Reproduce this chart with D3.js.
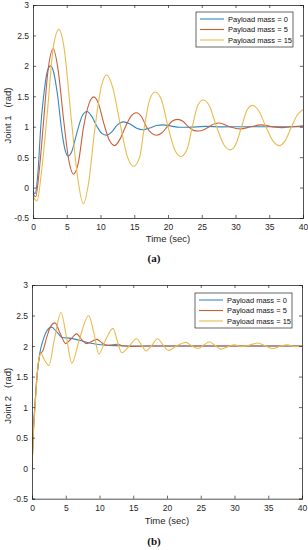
<!DOCTYPE html>
<html>
<head>
<meta charset="utf-8">
<script src="https://cdn.jsdelivr.net/npm/d3@7"></script>
<style>
  body { margin: 0; background: #fff; }
  svg { display: block; }
</style>
</head>
<body>
<div id="wrapper"></div>
<script>
// data: [time (sec), angle (rad)]
const seriesNames = ["Payload mass = 0", "Payload mass = 5", "Payload mass = 15"]
const seriesColors = ["#3589c1", "#c95f3a", "#e9bb4e"]
const xTicks = [0, 5, 10, 15, 20, 25, 30, 35, 40]
const yTicks = [-0.5, 0, 0.5, 1, 1.5, 2, 2.5, 3]

const joint1Mass0 = [[0,-0.05],[0.3,-0.1],[0.7,0.2],[1.15,1.0],[1.7,1.62],[2.2,1.94],[2.6,2.0],[3.0,1.92],[3.6,1.55],[4.3,0.9],[4.8,0.6],[5.2,0.52],[5.7,0.58],[6.5,0.9],[7.3,1.18],[8.0,1.25],[8.7,1.17],[9.5,1.0],[10.2,0.89],[10.9,0.86],[11.7,0.92],[12.5,1.03],[13.4,1.08],[14.3,1.05],[15.3,0.98],[16.3,0.95],[17.3,0.98],[18.3,1.02],[19.3,1.03],[20.5,1.01],[21.7,0.99],[23,0.99],[25.5,1.005],[28,0.997],[31,1.0],[40,1.0]]
const joint1Mass5 = [[0,-0.1],[0.4,-0.15],[0.9,0.25],[1.5,1.0],[2.2,1.9],[3.0,2.28],[3.7,1.95],[4.5,1.15],[5.3,0.45],[6.0,0.22],[6.7,0.4],[7.5,1.0],[8.3,1.38],[9.0,1.49],[9.7,1.38],[10.5,1.05],[11.3,0.78],[12.1,0.69],[12.9,0.8],[13.7,1.0],[14.5,1.17],[15.3,1.23],[16.1,1.16],[16.8,1.0],[17.6,0.89],[18.3,0.86],[19.1,0.9],[19.9,1.0],[20.6,1.09],[21.4,1.12],[22.2,1.09],[23,1.0],[23.8,0.94],[24.5,0.93],[25.3,0.95],[26.1,1.0],[26.9,1.05],[27.6,1.06],[29.1,1.0],[30.7,0.965],[32.3,1.0],[33.8,1.03],[35.4,1.0],[36.9,0.985],[38.5,1.0],[40,1.015]]
const joint1Mass15 = [[0,-0.15],[0.6,-0.22],[1.2,0.2],[2.1,1.2],[3.0,2.3],[3.85,2.6],[4.6,2.3],[5.65,1.15],[6.7,0.1],[7.45,-0.27],[8.2,0.05],[9.2,1.0],[10.1,1.65],[10.9,1.85],[11.8,1.65],[12.9,1.05],[14.0,0.5],[14.9,0.35],[15.8,0.5],[16.5,1.0],[17.3,1.45],[18.1,1.57],[19.0,1.45],[20.0,1.0],[21.0,0.62],[21.9,0.51],[22.8,0.62],[23.6,1.0],[24.4,1.35],[25.2,1.44],[26.1,1.35],[27.2,1.0],[28.3,0.7],[29.2,0.62],[30.0,0.7],[30.9,1.0],[31.7,1.27],[32.5,1.35],[33.4,1.27],[34.5,1.0],[35.6,0.76],[36.5,0.69],[37.3,0.76],[38.3,1.0],[39.2,1.2],[40,1.28]]

const joint2Mass0 = [[0,0],[0.2,0.6],[0.45,1.05],[0.7,1.45],[0.95,1.72],[1.15,1.88],[1.6,2.08],[2.2,2.25],[2.9,2.31],[3.6,2.24],[4.5,2.14],[5.5,2.13],[6.5,2.11],[7.5,2.08],[8.5,2.05],[9.6,2.03],[11,2.015],[13,2.005],[16,2.0],[40,2.0]]
const joint2Mass5 = [[0,0],[0.2,0.6],[0.45,1.05],[0.7,1.45],[0.95,1.72],[1.2,1.87],[1.6,1.92],[2.2,2.15],[2.8,2.33],[3.4,2.38],[4.2,2.2],[5.0,2.04],[5.8,2.12],[6.6,2.2],[7.4,2.1],[8.1,2.04],[8.9,2.08],[9.6,2.11],[10.4,2.05],[11.1,2.01],[12.0,2.02],[12.7,2.03],[13.6,2.0],[15,1.995],[17,2.0],[40,2.0]]
const joint2Mass15 = [[0,0],[0.2,0.55],[0.45,1.0],[0.7,1.42],[1.0,1.78],[1.35,1.88],[1.8,1.78],[2.5,1.68],[3.3,2.1],[4.3,2.55],[5.1,2.15],[5.9,1.72],[7.0,2.1],[8.4,2.5],[9.2,2.2],[9.9,1.87],[10.9,2.1],[12.0,2.29],[12.6,2.1],[13.3,1.89],[14.4,2.0],[15.5,2.12],[16.2,2.02],[16.9,1.92],[17.8,2.02],[18.6,2.12],[19.4,2.02],[20.2,1.93],[21.4,2.0],[22.8,2.06],[23.7,2.0],[24.6,1.96],[25.5,2.02],[26.3,2.07],[27.2,2.0],[28.0,1.95],[29,1.99],[30,2.02],[31,1.99],[32,2.01],[33.5,2.05],[34.6,2.0],[35.7,1.96],[36.8,2.0],[37.8,2.02],[39,1.99],[40,2.0]]

const panels = [
  { series: [joint1Mass0, joint1Mass5, joint1Mass15], yLabel: "Joint 1\u00a0\u00a0\u00a0(rad)", caption: "(a)",
    box: { left: 33, right: 303, top: 5, bottom: 218 }, legend: { x: 196, y: 12 },
    tickY: 230, titleY: 242, captionY: 262 },
  { series: [joint2Mass0, joint2Mass5, joint2Mass15], yLabel: "Joint 2\u00a0\u00a0\u00a0(rad)", caption: "(b)",
    box: { left: 32, right: 302, top: 285, bottom: 498.7 }, legend: { x: 195, y: 293 },
    tickY: 511, titleY: 524, captionY: 545 },
]

const width = 308
const height = 550
const axisColor = "#262626"
const font = "'Liberation Sans', Arial, sans-serif"

const svg = d3.select("#wrapper")
  .append("svg")
    .attr("width", width)
    .attr("height", height)

svg.append("rect").attr("width", width).attr("height", height).attr("fill", "#fff")

const fmt = d => String(d)

panels.forEach((p, i) => {
  const b = p.box
  const xScale = d3.scaleLinear().domain([0, 40]).range([b.left, b.right])
  const yScale = d3.scaleLinear().domain([-0.5, 3]).range([b.bottom, b.top])

  const g = svg.append("g")
  const clipId = "clip" + i
  g.append("clipPath").attr("id", clipId)
    .append("rect")
      .attr("x", b.left).attr("y", b.top)
      .attr("width", b.right - b.left).attr("height", b.bottom - b.top)

  const line = d3.line()
    .x(d => xScale(d[0]))
    .y(d => yScale(d[1]))
    .curve(d3.curveMonotoneX)

  g.append("g").attr("clip-path", `url(#${clipId})`)
    .selectAll("path")
    .data(p.series)
    .join("path")
      .attr("d", line)
      .attr("fill", "none")
      .attr("stroke", (d, j) => seriesColors[j])
      .attr("stroke-width", 1.1)

  // axes with inward ticks on all four sides
  const tk = 3
  const axB = g.append("g").attr("transform", `translate(0,${b.bottom})`)
    .call(d3.axisBottom(xScale).tickValues(xTicks).tickSize(-tk).tickFormat(fmt).tickPadding(6))
  const axT = g.append("g").attr("transform", `translate(0,${b.top})`)
    .call(d3.axisTop(xScale).tickValues(xTicks).tickSize(-tk).tickFormat(""))
  const axL = g.append("g").attr("transform", `translate(${b.left},0)`)
    .call(d3.axisLeft(yScale).tickValues(yTicks).tickSize(-tk).tickFormat(fmt).tickPadding(6))
  const axR = g.append("g").attr("transform", `translate(${b.right},0)`)
    .call(d3.axisRight(yScale).tickValues(yTicks).tickSize(-tk).tickFormat(""))

  ;[axB, axT, axL, axR].forEach(a => {
    a.select(".domain").attr("stroke", axisColor).attr("stroke-width", 0.8)
    a.selectAll(".tick line").attr("stroke", axisColor).attr("stroke-width", 0.7)
    a.selectAll("text").attr("fill", axisColor).style("font-family", font).style("font-size", "8.5px")
  })
  axB.selectAll(".tick text").attr("y", null).attr("dy", null)
    .attr("transform", `translate(0,${p.tickY - b.bottom})`)
  axL.selectAll(".tick text").attr("x", -4).attr("dy", "0.35em")

  g.append("text")
    .attr("x", (b.left + b.right) / 2).attr("y", p.titleY)
    .attr("text-anchor", "middle")
    .attr("fill", axisColor).style("font-family", font).style("font-size", "9.5px")
    .text("Time (sec)")

  g.append("text")
    .attr("transform", `translate(11,${(b.top + b.bottom) / 2 + 4}) rotate(-90)`)
    .attr("text-anchor", "middle")
    .attr("fill", axisColor).style("font-family", font).style("font-size", "9.5px")
    .text(p.yLabel)

  svg.append("text")
    .attr("x", 154).attr("y", p.captionY)
    .attr("text-anchor", "middle")
    .attr("fill", "#111").style("font-family", "'Liberation Serif', 'Times New Roman', serif")
    .style("font-size", "11px").style("font-weight", "bold")
    .text(p.caption)

  // legend
  const lg = g.append("g").attr("transform", `translate(${p.legend.x},${p.legend.y})`)
  lg.append("rect")
    .attr("width", 97).attr("height", 35)
    .attr("fill", "#fff").attr("stroke", axisColor).attr("stroke-width", 0.7)
  const rows = lg.selectAll("g.row").data(seriesNames).join("g")
    .attr("class", "row")
    .attr("transform", (d, j) => `translate(0,${7 + j * 10.5})`)
  rows.append("line")
    .attr("x1", 4).attr("x2", 28)
    .attr("stroke", (d, j) => seriesColors[j]).attr("stroke-width", 1.1)
  rows.append("text")
    .attr("x", 32).attr("dy", "0.35em")
    .attr("fill", "#111").style("font-family", font).style("font-size", "7.5px")
    .text(d => d)
})
</script>
</body>
</html>
